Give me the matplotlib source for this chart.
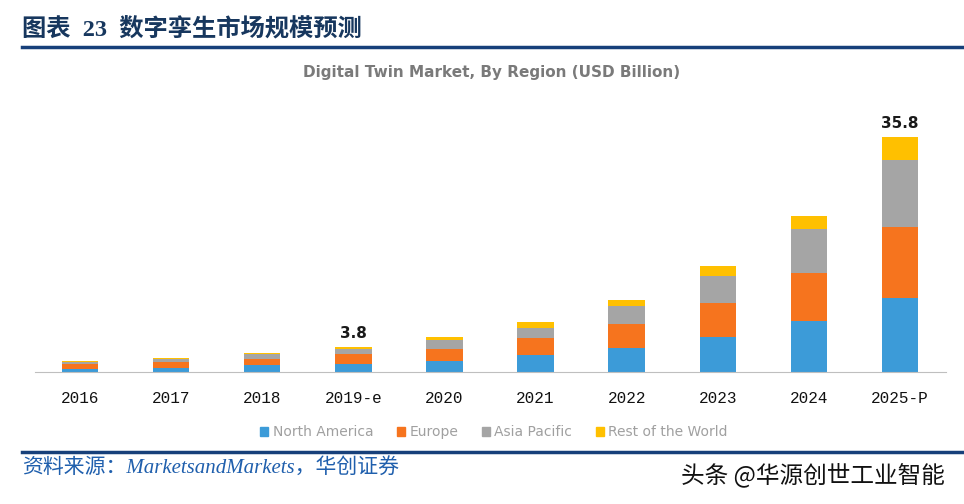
import numpy as np
import matplotlib.pyplot as plt
from matplotlib.lines import Line2D
from matplotlib.patches import Patch

# 数据（单位：十亿美元，按图读取估计）
years = ['2016', '2017', '2018', '2019-e', '2020', '2021', '2022', '2023', '2024', '2025-P']
north_america = [0.50, 0.67, 1.05, 1.20, 1.70, 2.55, 3.70, 5.40, 7.75, 11.3]
europe = [0.65, 0.85, 1.00, 1.50, 1.80, 2.55, 3.55, 5.07, 7.36, 10.7]
asia_pacific = [0.35, 0.50, 0.65, 0.80, 1.40, 1.67, 2.80, 4.15, 6.60, 10.3]
rest_world = [0.15, 0.18, 0.20, 0.30, 0.45, 0.85, 0.87, 1.50, 2.10, 3.5]
labels = {'2019-e': '3.8', '2025-P': '35.8'}
series_names = ['North America', 'Europe', 'Asia Pacific', 'Rest of the World']
colors = ['#3C9BD8', '#F6741E', '#A5A5A5', '#FFC000']

cjk = ['Noto Sans CJK SC', 'DejaVu Sans']
serif_cjk = ['Liberation Serif', 'Noto Sans CJK SC']

fig = plt.figure(figsize=(9.64, 5.04), dpi=100)

# 标题与横线
fig.text(22 / 964, 1 - 30 / 504, '图表  23  数字孪生市场规模预测', fontsize=17.5, fontweight='bold',
         color='#17375E', family=serif_cjk, va='center', ha='left')
fig.add_artist(Line2D([22 / 964, 1], [1 - 47 / 504] * 2, color='#17407A', lw=2.5))
fig.add_artist(Line2D([22 / 964, 1], [1 - 452 / 504] * 2, color='#17407A', lw=2.5))

fig.text(492 / 964, 1 - 73 / 504, 'Digital Twin Market, By Region (USD Billion)', fontsize=11,
         fontweight='bold', color='#7A7A7A', ha='center', va='center')

ax = fig.add_axes([34.5 / 964, 132 / 504, 911 / 964, 272 / 504])
x = np.arange(len(years))
bottom = np.zeros(len(years))
for vals, c in zip([north_america, europe, asia_pacific, rest_world], colors):
    ax.bar(x, vals, width=0.4, bottom=bottom, color=c, edgecolor='none')
    bottom = bottom + np.array(vals)

for i, y in enumerate(years):
    if y in labels:
        ax.text(i, bottom[i] + 0.9, labels[y], ha='center', va='bottom', fontsize=11,
                fontweight='bold', color='#1a1a1a')

ax.set_xlim(-0.5, 9.5)
ax.set_ylim(0, 41.4)
for s in ['top', 'right', 'left']:
    ax.spines[s].set_visible(False)
ax.spines['bottom'].set_color('#BFBFBF')
ax.set_yticks([])
ax.set_xticks(x)
ax.set_xticklabels(years, family='Liberation Mono', fontsize=11.5, color='#111111')
ax.tick_params(axis='x', length=0, pad=14)

handles = [Patch(color=c) for c in colors]
fig.legend(handles, series_names, loc='center', bbox_to_anchor=(494 / 964, 1 - 432 / 504),
           ncol=4, frameon=False, fontsize=10, labelcolor='#A0A0A0', handlelength=0.6,
           handleheight=0.6, handletextpad=0.3, columnspacing=1.7)

fig.text(22 / 964, 1 - 468 / 504, '资料来源：MarketsandMarkets，华创证券', fontsize=15,
         style='italic', color='#1F5FAD', family=serif_cjk, ha='left', va='center')
fig.text(945 / 964, 1 - 475 / 504, '头条 @华源创世工业智能', fontsize=17, color='#111111',
         family=cjk, ha='right', va='center')

fig.savefig('out.png', dpi=100)
